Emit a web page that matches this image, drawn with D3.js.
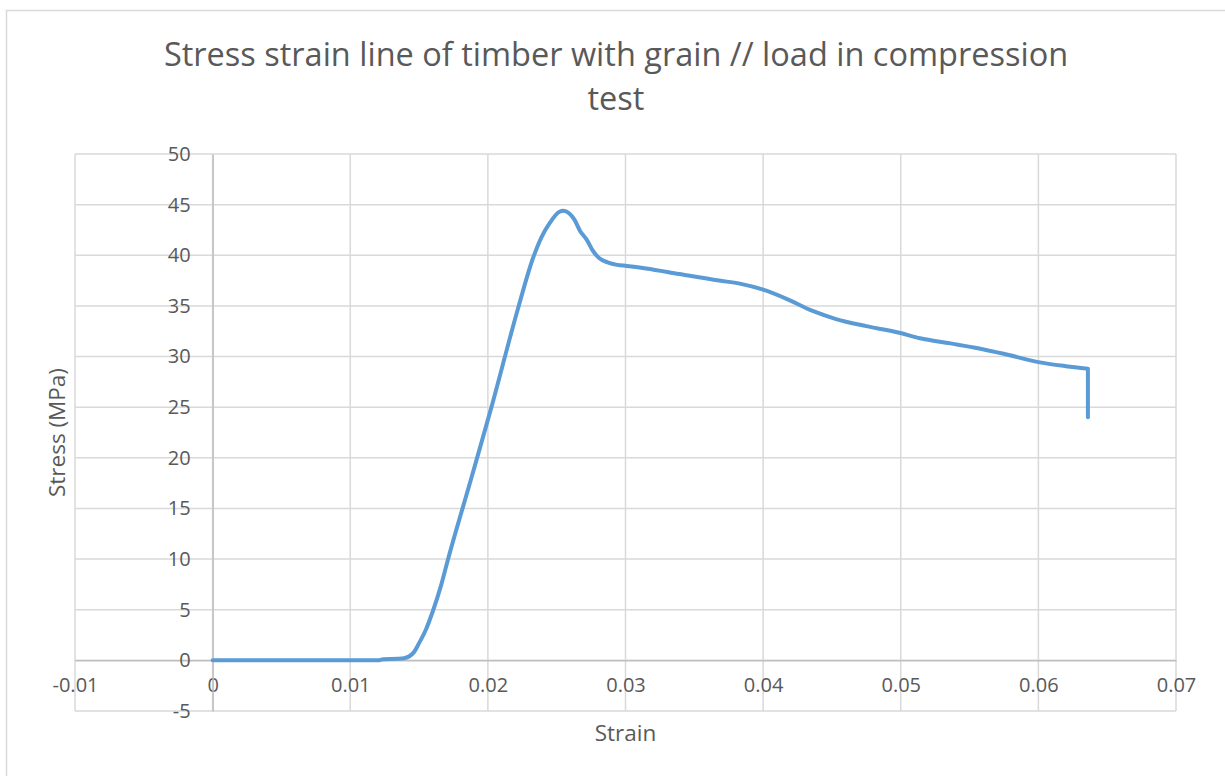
<!DOCTYPE html>
<html>
<head>
<meta charset="utf-8">
<title>Stress strain line</title>
<script src="https://cdn.jsdelivr.net/npm/d3@7"></script>
<style>
  body { margin: 0; background: #fff; }
  svg { display: block; font-family: "Open Sans", Lato, sans-serif; }
</style>
</head>
<body>
<svg id="chart" width="1225" height="776"></svg>
<script>
// strain (mm/mm) and stress (MPa)
const strain = [0, 0.005, 0.0100, 0.0121, 0.0124, 0.0135, 0.0139, 0.0146, 0.0150,
  0.0155, 0.0160, 0.0166, 0.0171, 0.0188, 0.0203, 0.0222, 0.0233, 0.0239, 0.0245,
  0.0252, 0.0255, 0.0259, 0.0263, 0.0267, 0.0272, 0.0276, 0.0281, 0.0287, 0.0294,
  0.0301, 0.0315, 0.0339, 0.0368, 0.0383, 0.0400, 0.0417, 0.0436, 0.0453, 0.0475,
  0.0499, 0.0514, 0.0536, 0.0557, 0.0577, 0.0600, 0.0620, 0.0636, 0.0636];
const stress = [0, 0, 0, 0.02, 0.12, 0.15, 0.2, 0.76, 1.7,
  3.05, 4.85, 7.4, 9.96, 18.0, 25.2, 34.8, 39.8, 41.8, 43.2,
  44.3, 44.4, 44.15, 43.5, 42.4, 41.5, 40.5, 39.7, 39.3, 39.05,
  38.95, 38.7, 38.15, 37.5, 37.2, 36.6, 35.7, 34.5, 33.7, 33.0,
  32.35, 31.8, 31.3, 30.8, 30.2, 29.45, 29.05, 28.8, 24.0];

const xTicks = [-0.01, 0, 0.01, 0.02, 0.03, 0.04, 0.05, 0.06, 0.07];
const yTicks = [-5, 0, 5, 10, 15, 20, 25, 30, 35, 40, 45, 50];

const titleLines = ["Stress strain line of timber with grain // load in compression", "test"];
const xTitle = "Strain";
const yTitle = "Stress (MPa)";

const svg = d3.select("#chart");
const textColor = "#595959";

const plot = {left: 75, right: 1176, top: 154, bottom: 711};

const x = d3.scaleLinear().domain([-0.01, 0.07]).range([plot.left, plot.right]);
const y = d3.scaleLinear().domain([-5, 50]).range([plot.bottom, plot.top]);

// plain hyphen for negatives, like the spreadsheet does
const fmt = d => d3.format("~g")(d).replace("\u2212", "-");

// chart frame
svg.append("rect")
  .attr("x", 6.5).attr("y", 10.5)
  .attr("width", 1240).attr("height", 790)
  .attr("fill", "#fff")
  .attr("stroke", "#d9d9d9").attr("stroke-width", 1.5);

// gridlines
const grid = svg.append("g").attr("stroke", "#d9d9d9").attr("stroke-width", 1.5);
grid.selectAll("line.h").data(yTicks).join("line").attr("class", "h")
  .attr("x1", plot.left).attr("x2", plot.right)
  .attr("y1", d => y(d)).attr("y2", d => y(d));
grid.selectAll("line.v").data(xTicks).join("line").attr("class", "v")
  .attr("y1", plot.top).attr("y2", plot.bottom)
  .attr("x1", d => x(d)).attr("x2", d => x(d));

// axes crossing at zero
const xAxis = d3.axisBottom(x).tickValues(xTicks)
  .tickSize(0).tickPadding(17).tickFormat(fmt);
const gx = svg.append("g").attr("transform", `translate(0,${y(0)})`).call(xAxis);
gx.select(".domain").attr("stroke", "#bfbfbf").attr("stroke-width", 1.5);

const yAxis = d3.axisLeft(y).tickValues(yTicks)
  .tickSize(0).tickPadding(22).tickFormat(fmt);
const gy = svg.append("g").attr("transform", `translate(${x(0)},0)`).call(yAxis);
gy.select(".domain").attr("stroke", "#bfbfbf").attr("stroke-width", 1.5);

svg.selectAll(".tick text")
  .attr("fill", textColor)
  .style("font-size", "20px")
  .style("font-family", "'Open Sans', Lato, sans-serif");

// the curve: smoothed up to failure, then the straight drop
const pts = strain.map((s, i) => [x(s), y(stress[i])]);
const n = pts.length;

const smooth = d3.line().curve(d3.curveMonotoneX);
const straight = d3.line();

svg.append("path")
  .attr("d", smooth(pts.slice(0, n - 1)) + straight(pts.slice(n - 2)).replace("M", "L"))
  .attr("fill", "none")
  .attr("stroke", "#5b9bd5")
  .attr("stroke-width", 4)
  .attr("stroke-linejoin", "round")
  .attr("stroke-linecap", "round");

// titles
svg.append("text")
  .attr("text-anchor", "middle")
  .attr("fill", textColor)
  .style("font-size", "32.5px")
  .selectAll("tspan").data(titleLines).join("tspan")
  .attr("x", 616)
  .attr("y", (d, i) => 66 + i * 44)
  .text(d => d);

svg.append("text")
  .attr("x", (plot.left + plot.right) / 2).attr("y", 741)
  .attr("text-anchor", "middle")
  .attr("fill", textColor)
  .style("font-size", "22.5px")
  .text(xTitle);

svg.append("text")
  .attr("transform", `translate(65,${(plot.top + plot.bottom) / 2}) rotate(-90)`)
  .attr("text-anchor", "middle")
  .attr("fill", textColor)
  .style("font-size", "22.5px")
  .text(yTitle);
</script>
</body>
</html>
